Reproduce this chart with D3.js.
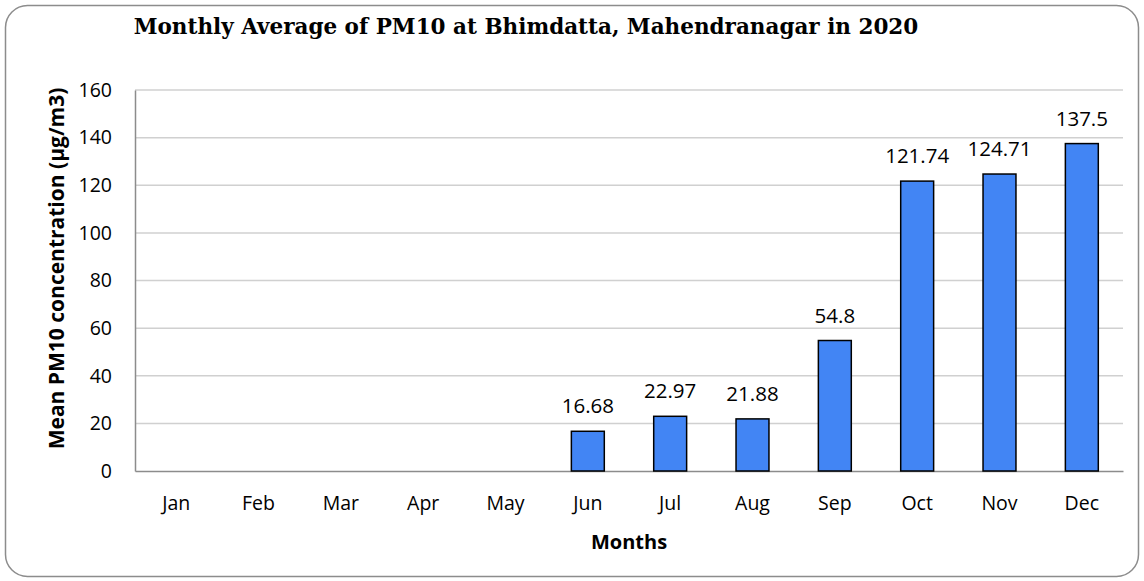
<!DOCTYPE html>
<html>
<head>
<meta charset="utf-8">
<script src="https://cdn.jsdelivr.net/npm/d3@7"></script>
<style>
  body { margin: 0; background: #fff; }
  text { font-family: "Open Sans", "Liberation Sans", sans-serif; fill: #000; }
</style>
</head>
<body>
<svg id="chart"></svg>
<script>
const months = ['Jan', 'Feb', 'Mar', 'Apr', 'May', 'Jun', 'Jul', 'Aug', 'Sep', 'Oct', 'Nov', 'Dec'];
const pm10 = [null, null, null, null, null, 16.68, 22.97, 21.88, 54.8, 121.74, 124.71, 137.5];
const yTicks = [0, 20, 40, 60, 80, 100, 120, 140, 160];

const width = 1144, height = 581;
const margin = {top: 90, right: 21, bottom: 110, left: 135};

const svg = d3.select('#chart')
    .attr('width', width)
    .attr('height', height);

// chart border
svg.append('rect')
    .attr('x', 5.5).attr('y', 5.5)
    .attr('width', width - 11).attr('height', height - 10)
    .attr('rx', 22)
    .attr('fill', '#fff')
    .attr('stroke', '#8c8c8c')
    .attr('stroke-width', 1.5);

const innerW = width - margin.left - margin.right;
const innerH = height - margin.top - margin.bottom;

const chart = svg.append('g')
    .attr('transform', `translate(${margin.left},${margin.top})`);

const xScale = d3.scaleBand()
    .domain(months)
    .range([0, innerW])
    .paddingInner(0.6)
    .paddingOuter(0.3);

const yScale = d3.scaleLinear()
    .domain([0, 160])
    .range([innerH, 0]);

// gridlines
chart.append('g')
    .selectAll('line')
    .data(yTicks.filter(d => d > 0))
    .join('line')
    .attr('x1', 0).attr('x2', innerW)
    .attr('y1', d => yScale(d)).attr('y2', d => yScale(d))
    .attr('stroke', '#d0d0d0')
    .attr('stroke-width', 1.5);

// y axis
const yAxis = d3.axisLeft(yScale).tickValues(yTicks).tickSize(0).tickPadding(23);
const yAxisG = chart.append('g').call(yAxis);
yAxisG.select('.domain').attr('stroke', '#8c8c8c').attr('stroke-width', 1.5);
yAxisG.selectAll('text').attr('font-size', 19.5).style('font-family', '"Open Sans", sans-serif');

// x axis
const xAxis = d3.axisBottom(xScale).tickSize(0).tickPadding(25);
const xAxisG = chart.append('g')
    .attr('transform', `translate(0,${innerH})`)
    .call(xAxis);
xAxisG.select('.domain').attr('stroke', '#8c8c8c').attr('stroke-width', 1.5);
xAxisG.selectAll('text').attr('font-size', 19.5).style('font-family', '"Open Sans", sans-serif');

const barData = months.map((m, i) => ({month: m, value: pm10[i]})).filter(d => d.value !== null);

chart.selectAll('.bar')
    .data(barData)
    .join('rect')
    .attr('class', 'bar')
    .attr('x', d => xScale(d.month))
    .attr('width', xScale.bandwidth())
    .attr('y', d => yScale(d.value))
    .attr('height', d => innerH - yScale(d.value))
    .attr('fill', '#4285f4')
    .attr('stroke', '#000')
    .attr('stroke-width', 1.5);

chart.selectAll('.label')
    .data(barData)
    .join('text')
    .attr('class', 'label')
    .attr('x', d => xScale(d.month) + xScale.bandwidth() / 2)
    .attr('y', d => yScale(d.value) - 18)
    .attr('text-anchor', 'middle')
    .attr('font-size', 20.5)
    .text(d => d.value);

// title
svg.append('text')
    .attr('x', 526)
    .attr('y', 34)
    .attr('text-anchor', 'middle')
    .style('font-family', '"DejaVu Serif", serif')
    .attr('font-weight', 'bold')
    .attr('font-size', 21.5)
    .text('Monthly Average of PM10 at Bhimdatta, Mahendranagar in 2020');

// axis titles
svg.append('text')
    .attr('x', margin.left + innerW / 2)
    .attr('y', 549)
    .attr('text-anchor', 'middle')
    .attr('font-weight', 'bold')
    .attr('font-size', 20)
    .text('Months');

svg.append('text')
    .attr('transform', `translate(64,${margin.top + innerH / 2 - 12}) rotate(-90)`)
    .attr('text-anchor', 'middle')
    .attr('font-weight', 'bold')
    .attr('font-size', 21)
    .text('Mean PM10 concentration (µg/m3)');
</script>
</body>
</html>
